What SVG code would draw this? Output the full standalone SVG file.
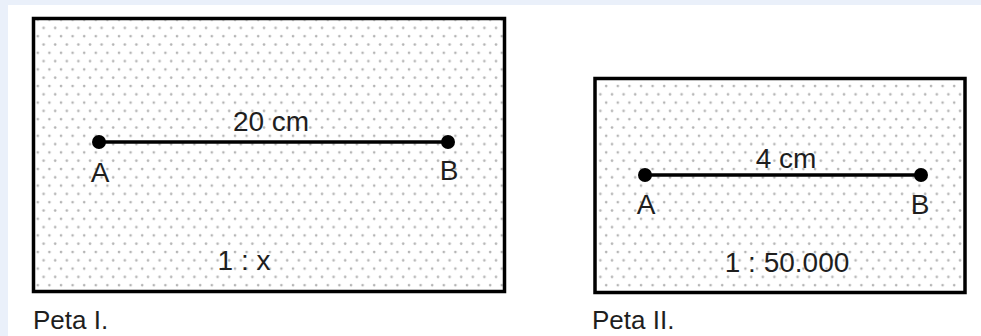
<svg xmlns="http://www.w3.org/2000/svg" width="981" height="336" viewBox="0 0 981 336">
<style>
.frame{fill:url(#dots);stroke:#000;stroke-width:3.5}
.seg{stroke:#000;stroke-width:3.5}
.pt{fill:#000}
.t{font-family:"Liberation Sans",Arial,sans-serif;font-size:28px;fill:#1e1e1e}
.cap{font-size:26px}
.m{text-anchor:middle}
</style>
<defs>
<pattern id="dots" patternUnits="userSpaceOnUse" width="11.6" height="16.6">
<rect width="11.6" height="16.6" fill="#fff"/>
<circle cx="3" cy="3" r="1.3" fill="#b4b4b4"/>
<circle cx="8.8" cy="11.3" r="1.3" fill="#b4b4b4"/>
</pattern>
</defs>
<rect width="981" height="336" fill="#fff"/>
<rect x="0" y="0" width="981" height="5" fill="#eaf0fa"/>
<rect x="0" y="0" width="8" height="336" fill="#eaf0fa"/>

<g id="peta1">
<rect class="frame" x="33.5" y="18.5" width="471" height="273"/>
<text class="t cap" x="33" y="329">Peta I.</text>
<text class="t m" x="244" y="270">1 : x</text>
</g>
<g id="peta2">
<rect class="frame" x="595" y="78.5" width="370" height="214"/>
<text class="t cap" x="592" y="329">Peta II.</text>
<text class="t m" x="787" y="272">1 : 50.000</text>
</g>

<g id="connectors">
<line class="seg" x1="99" y1="142" x2="448" y2="142"/>
<line class="seg" x1="645" y1="175" x2="921" y2="175"/>
</g>

<g id="A1">
<circle class="pt" cx="99" cy="142" r="7"/>
<text class="t m" x="100" y="182">A</text>
</g>
<g id="B1">
<circle class="pt" cx="448" cy="142" r="7"/>
<text class="t m" x="449" y="180">B</text>
</g>
<g id="label1">
<text class="t m" x="271" y="131">20 cm</text>
</g>
<g id="A2">
<circle class="pt" cx="645" cy="175" r="7"/>
<text class="t m" x="646" y="214">A</text>
</g>
<g id="B2">
<circle class="pt" cx="921" cy="175" r="7"/>
<text class="t m" x="920" y="214">B</text>
</g>
<g id="label2">
<text class="t m" x="786" y="168">4 cm</text>
</g>
</svg>
